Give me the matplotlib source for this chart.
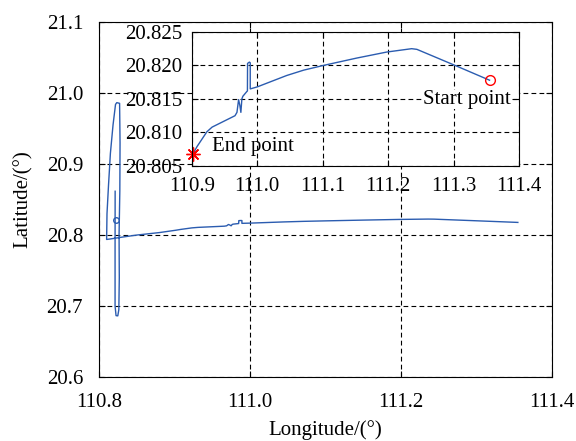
import numpy as np
import matplotlib
matplotlib.use('Agg')
import matplotlib.pyplot as plt
import matplotlib.ticker as ticker

# track, from start point going west
lon = [111.355, 111.300, 111.244, 111.236, 111.198, 111.152, 111.101, 111.071,
       111.045, 111.000, 110.9893, 110.9893, 110.9880, 110.9852, 110.9850,
       110.984, 110.978, 110.9765, 110.975, 110.9735, 110.9715, 110.969,
       110.966, 110.931, 110.923, 110.908, 110.9018,
       110.880, 110.850, 110.830, 110.815, 110.810,
       110.8105, 110.8125, 110.8150, 110.8185, 110.8218, 110.8235, 110.8272,
       110.8278, 110.8275, 110.8265, 110.8268, 110.8262, 110.8248, 110.8225,
       110.8212, 110.8212, 110.8213]
lat = [20.8178, 20.8201, 20.8224, 20.8225, 20.8220, 20.8211, 20.8200, 20.8193,
       20.8185, 20.8168, 20.8165, 20.8204, 20.8205, 20.8203, 20.8162,
       20.8161, 20.8154, 20.8150, 20.8130, 20.8140, 20.8149, 20.8130,
       20.8125, 20.8108, 20.8101, 20.8079, 20.8068,
       20.8035, 20.8000, 20.7970, 20.7945, 20.7938,
       20.830, 20.870, 20.915, 20.955, 20.984, 20.9865, 20.9855,
       20.930, 20.862, 20.800, 20.740, 20.695, 20.6862, 20.6865,
       20.700, 20.780, 20.8617]

start_pt = (111.355, 20.8178)
end_pt = (110.9018, 20.8068)
mid_pt = (110.8225, 20.8205)

main_xticks = [110.8, 111.0, 111.2, 111.4]
main_yticks = [20.6, 20.7, 20.8, 20.9, 21.0, 21.1]
ins_xticks = [110.9, 111.0, 111.1, 111.2, 111.3, 111.4]
ins_yticks = [20.805, 20.810, 20.815, 20.820, 20.825]

plt.rcParams['font.family'] = ['Liberation Serif', 'DejaVu Serif']
plt.rcParams['font.size'] = 15
plt.rcParams['xtick.direction'] = 'in'
plt.rcParams['ytick.direction'] = 'in'
plt.rcParams['xtick.top'] = True
plt.rcParams['ytick.right'] = True
plt.rcParams['axes.linewidth'] = 0.8

blue = '#2b5cb0'
grid_kw = dict(color='black', linestyle=(0, (4.3, 2.9)), linewidth=0.8)

fig = plt.figure(figsize=(5.76, 4.41), dpi=100)
ax = fig.add_axes([0.172, 0.145, 0.786, 0.805])
ax.plot(lon, lat, color=blue, lw=1.0)
ax.plot(*mid_pt, 'o', ms=4, mfc='none', mec=blue, mew=1.0)
ax.set_xlim(110.8, 111.4)
ax.set_ylim(20.6, 21.1)
ax.set_xticks(main_xticks)
ax.set_yticks(main_yticks)
ax.xaxis.set_major_formatter(ticker.FormatStrFormatter('%.1f'))
ax.yaxis.set_major_formatter(ticker.FormatStrFormatter('%.1f'))
ax.grid(True, **grid_kw)
ax.tick_params(length=4, width=0.8)
ax.tick_params(axis='x', pad=11.5)
ax.tick_params(axis='y', pad=11.5)
ax.set_xlabel('Longitude/(°)', labelpad=5.5)
ax.set_ylabel('Latitude/(°)', labelpad=10)

ins = fig.add_axes([0.333, 0.6236, 0.568, 0.304])
ins.plot(lon, lat, color=blue, lw=1.0)
ins.plot(*start_pt, 'o', ms=7, mfc='none', mec='red', mew=1.0)
ins.plot(*end_pt, marker=(8, 2, 0), ms=10, color='red', mew=1.0, clip_on=False)
ins.set_xlim(110.9, 111.4)
ins.set_ylim(20.805, 20.825)
ins.set_xticks(ins_xticks)
ins.set_yticks(ins_yticks)
ins.xaxis.set_major_formatter(ticker.FormatStrFormatter('%.1f'))
ins.yaxis.set_major_formatter(ticker.FormatStrFormatter('%.3f'))
ins.grid(True, **grid_kw)
ins.tick_params(length=4, width=0.8)
ins.tick_params(axis='x', pad=8)
ins.tick_params(axis='y', pad=7)
ins.text(110.931, 20.8079, 'End point', ha='left', va='center')
ins.text(111.387, 20.8149, 'Start point', ha='right', va='center',
         bbox=dict(facecolor='white', edgecolor='none', pad=0))

fig.savefig('out.png', dpi=100)
